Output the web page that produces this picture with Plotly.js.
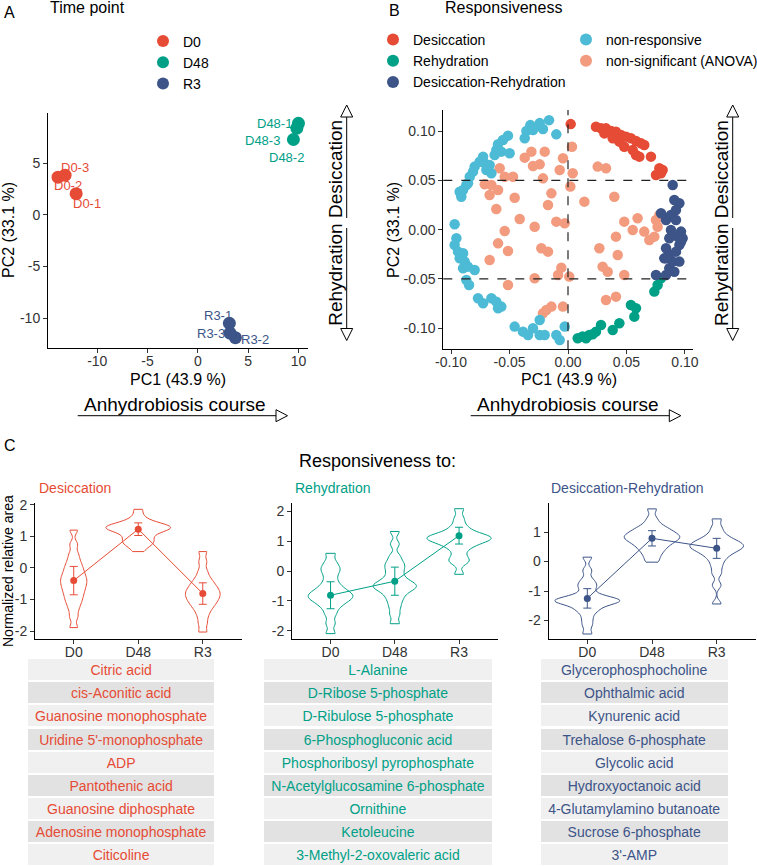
<!DOCTYPE html>
<html><head><meta charset="utf-8">
<script src="https://cdn.plot.ly/plotly-3.0.1.min.js"></script>
<style>body{margin:0;padding:0;background:#fff}#chart{width:757px;height:866px}</style>
</head><body><div id="chart"></div>
<script>
const W = 757, H = 866;
const RED = '#E64B35', GREEN = '#00A087', NAVY = '#3C5488', CYAN = '#4DBBD5', SALMON = '#F39B7F';

// ---------- Panel A : PCA of samples ----------
const timePoints = ['D0', 'D48', 'R3'];
const pcaD0X = [-12.1, -13.9, -13.2];
const pcaD0Y = [2.05, 3.65, 3.85];
const pcaD0Lab = ['D0-1', 'D0-2', 'D0-3'];
const pcaD48X = [10.0, 9.5, 9.84];
const pcaD48Y = [8.87, 7.3, 8.4];
const pcaD48Lab = ['D48-1', 'D48-2', 'D48-3'];
const pcaR3X = [3.13, 3.73, 3.2];
const pcaR3Y = [-10.5, -11.9, -11.45];
const pcaR3Lab = ['R3-1', 'R3-2', 'R3-3'];

// ---------- Panel B : loadings ----------
const desX = [0.0023, 0.0239, 0.0282, 0.0325, 0.0311, 0.0368, 0.0410, 0.0382, 0.0453, 0.0439, 0.0496, 0.0481, 0.0538, 0.0553, 0.0581, 0.0581, 0.0624, 0.0610, 0.0652, 0.0709, 0.0781, 0.0809, 0.0752, 0.0795];
const desY = [0.107, 0.1044, 0.1027, 0.1027, 0.0976, 0.1000, 0.0993, 0.0926, 0.0959, 0.0892, 0.0943, 0.0841, 0.0926, 0.0807, 0.0899, 0.0757, 0.0875, 0.0740, 0.0858, 0.0740, 0.0622, 0.0605, 0.0554, 0.0571];
const rehX = [0.0795, 0.0766, 0.0738, 0.0538, 0.0581, 0.0567, 0.0439, 0.0382, 0.0282, 0.0239, 0.0211, 0.0182, 0.0154, 0.0125, 0.0083];
const rehY = [-0.0493, -0.0561, -0.0628, -0.0764, -0.0797, -0.0882, -0.0949, -0.1017, -0.0966, -0.1034, -0.1061, -0.1068, -0.1101, -0.1084, -0.1101];
const drX = [0.0895, 0.0909, 0.0952, 0.0923, 0.0880, 0.0795, 0.0838, 0.0923, 0.0966, 0.0980, 0.0952, 0.0923, 0.0866, 0.0838, 0.0823, 0.0895, 0.0866, 0.0909, 0.0952, 0.0752, 0.0838, 0.0966, 0.0937, 0.0866, 0.0880, 0.0838];
const drY = [0.0453, 0.0301, 0.0267, 0.0199, 0.0149, 0.0166, 0.0098, 0.0098, -0.0020, -0.0088, -0.0155, -0.0223, -0.0257, -0.0189, -0.0291, -0.0324, -0.0392, -0.0426, -0.0324, -0.0459, -0.0459, -0.0122, -0.0071, -0.0088, -0.0003, -0.0291];
const nrX = [-0.0162, -0.0242, -0.0322, -0.0356, -0.0370, -0.0299, -0.0214, -0.0100, -0.0513, -0.0556, -0.0598, -0.0613, -0.0570, -0.0499, -0.0627, -0.0726, -0.0755, -0.0712, -0.0670, -0.0798, -0.0812, -0.0698, -0.0655, -0.0840, -0.0869, -0.0897, -0.0912, -0.0855, -0.0926,
  -0.0969, -0.0954, -0.0969, -0.0940, -0.0897, -0.0926, -0.0883, -0.0855, -0.0798, -0.0897, -0.0869, -0.0846, -0.0769, -0.0726, -0.0655, -0.0613, -0.0570, -0.0598,
  -0.0456, -0.0385, -0.0342, -0.0299, -0.0242, -0.0199, -0.0242, -0.0100, -0.0071, -0.0028];
const nrY = [0.111, 0.108, 0.106, 0.100, 0.0926, 0.101, 0.102, 0.0966, 0.0953, 0.0909, 0.0865, 0.0807, 0.0791, 0.0774, 0.0757, 0.0740, 0.0689, 0.0672, 0.0655, 0.0639, 0.0588, 0.0605, 0.0571, 0.0537, 0.0453, 0.0402, 0.0334, 0.0470, 0.0385,
  0.0054, -0.0088, -0.0155, -0.0223, -0.0240, -0.0291, -0.0324, -0.0375, -0.0409, -0.0392, -0.0510, -0.0561, -0.0696, -0.0747, -0.0696, -0.0730, -0.0780, -0.0797,
  -0.0983, -0.1034, -0.1068, -0.1000, -0.1068, -0.1068, -0.0916, -0.1068, -0.1118, -0.0983];
const nsX = [-0.0313, -0.0370, -0.0299, -0.0242, -0.0199, -0.0584, -0.0541, -0.0470, -0.0712, -0.0655, -0.0598, -0.0670, -0.0456, -0.0214, -0.0142, -0.0171, -0.0071, -0.0043, -0.0613, -0.0413, -0.0285, -0.0100, -0.0028, -0.0541, -0.0598, -0.0513, -0.0228, -0.0171, -0.0670, -0.0285, -0.0513, -0.0057, -0.0085, -0.0214, -0.0142, -0.0185, -0.0043,
  0.0034, 0.0040, 0.0020, 0.0254, 0.0325, 0.0396, 0.0140, 0.0481, 0.0595, 0.0553, 0.0652, 0.0752, 0.0766, 0.0738, 0.0695, 0.0781, 0.0410, 0.0268, 0.0425, 0.0296, 0.0339, 0.0481, 0.0325, 0.0410, 0.0011];
const nsY = [0.0791, 0.0730, 0.0645, 0.0662, 0.0791, 0.0622, 0.0537, 0.0537, 0.0459, 0.0453, 0.0402, 0.0351, 0.0324, 0.0520, 0.0368, 0.0250, 0.0605, 0.0723, 0.0209, 0.0108, 0.0030, 0.0081, 0.0064, -0.0014, -0.0139, -0.0216, -0.0189, -0.0223, -0.0307, -0.0493, -0.0561, -0.0385, -0.0459, -0.0848, -0.0780, -0.0814, -0.0780,
  0.0841, 0.0571, 0.0437, 0.0639, 0.0622, 0.0334, 0.0284, 0.0081, 0.0115, -0.0003, -0.0020, 0.0098, 0.0030, -0.0071, -0.0105, 0.0149, -0.0071, -0.0189, -0.0257, -0.0375, -0.0426, -0.0459, -0.0713, -0.0679, -0.0476];

// ---------- Panel C : normalized relative areas (values per time point) ----------
const desD0 = [1.2, 0.75, 0.45, 0.25, 0.1, -0.02, -0.13, -0.23, -0.32, -0.4, -0.48, -0.57, -0.66, -0.76, -0.87, -0.99, -1.12, -1.3, -1.55, -1.89];
const desD48 = [1.86, 1.62, 1.48, 1.40, 1.36, 1.33, 1.31, 1.29, 1.27, 1.25, 1.22, 1.18, 1.12, 1.04, 0.96, 0.88, 0.82, 0.76, 0.70, 0.52];
const desR3 = [0.52, 0.2, -0.1, -0.3, -0.42, -0.52, -0.6, -0.67, -0.74, -0.8, -0.86, -0.92, -0.99, -1.06, -1.14, -1.23, -1.35, -1.52, -1.75, -2.03];
const rehD0 = [0.59, 0.3, 0.12, 0.02, -0.15, -0.35, -0.5, -0.6, -0.68, -0.75, -0.8, -0.85, -0.9, -0.96, -1.03, -1.12, -1.25, -1.45, -1.75, -2.09];
const rehD48 = [1.32, 0.9, 0.5, 0.3, 0.18, 0.05, -0.1, -0.25, -0.35, -0.42, -0.47, -0.52, -0.57, -0.63, -0.72, -0.85, -1.0, -1.2, -1.45, -1.76];
const rehR3 = [2.08, 1.75, 1.52, 1.38, 1.28, 1.21, 1.17, 1.14, 1.11, 1.08, 1.05, 1.01, 0.96, 0.9, 0.82, 0.7, 0.5, 0.35, 0.28, -0.11];
const drD0 = [0.15, -0.3, -0.62, -0.78, -0.88, -1.08, -1.2, -1.26, -1.29, -1.31, -1.33, -1.35, -1.38, -1.42, -1.5, -1.62, -1.7, -1.92, -2.15, -2.46];
const drD48 = [1.79, 1.45, 1.25, 1.15, 1.08, 1.02, 0.96, 0.91, 0.87, 0.83, 0.79, 0.75, 0.7, 0.64, 0.57, 0.5, 0.4, 0.3, 0.15, -0.02];
const drR3 = [1.45, 1.15, 0.95, 0.82, 0.74, 0.68, 0.63, 0.58, 0.54, 0.5, 0.46, 0.41, 0.35, 0.28, 0.18, 0.05, -0.15, -0.4, -0.8, -1.44];
const desMean = [-0.40, 1.23, -0.81], desSD = [0.45, 0.20, 0.34];
const rehMean = [-0.81, -0.34, 1.18], rehSD = [0.45, 0.47, 0.28];
const drMean = [-1.25, 0.79, 0.45], drSD = [0.33, 0.26, 0.34];

const desNames = ['Citric acid', 'cis-Aconitic acid', 'Guanosine monophosphate', "Uridine 5'-monophosphate", 'ADP', 'Pantothenic acid', 'Guanosine diphosphate', 'Adenosine monophosphate', 'Citicoline'];
const rehNames = ['L-Alanine', 'D-Ribose 5-phosphate', 'D-Ribulose 5-phosphate', '6-Phosphogluconic acid', 'Phosphoribosyl pyrophosphate', 'N-Acetylglucosamine 6-phosphate', 'Ornithine', 'Ketoleucine', '3-Methyl-2-oxovaleric acid'];
const drNames = ['Glycerophosphocholine', 'Ophthalmic acid', 'Kynurenic acid', 'Trehalose 6-phosphate', 'Glycolic acid', 'Hydroxyoctanoic acid', '4-Glutamylamino butanoate', 'Sucrose 6-phosphate', "3'-AMP"];

const ticksA_x = [-10, -5, 0, 5, 10], ticksA_xt = ['-10', '-5', '0', '5', '10'];
const ticksA_y = [-10, -5, 0, 5], ticksA_yt = ['-10', '-5', '0', '5'];
const ticksB = [-0.10, -0.05, 0, 0.05, 0.10], ticksBt = ['-0.10', '-0.05', '0.00', '0.05', '0.10'];
const ticksC = [-2, -1, 0, 1, 2], ticksCt = ['-2', '-1', '0', '1', '2'];

// ---------- helpers ----------
const px = x => x / W, py = y => 1 - y / H;
const FONT = 'Liberation Sans, Arial, sans-serif';

const traces = [];
// Panel A
[[pcaD0X, pcaD0Y, 'D0', RED], [pcaD48X, pcaD48Y, 'D48', GREEN], [pcaR3X, pcaR3Y, 'R3', NAVY]].forEach(([x, y, n, c]) => {
  traces.push({type: 'scatter', mode: 'markers', x, y, name: n, xaxis: 'x', yaxis: 'y', legend: 'legend',
    marker: {size: 13, color: c}, hoverinfo: 'skip'});
});
// Panel B
[[nsX, nsY, 'non-significant (ANOVA)', SALMON, 'legend3'], [nrX, nrY, 'non-responsive', CYAN, 'legend3'],
 [desX, desY, 'Desiccation', RED, 'legend2'], [rehX, rehY, 'Rehydration', GREEN, 'legend2'], [drX, drY, 'Desiccation-Rehydration', NAVY, 'legend2']].forEach(([x, y, n, c, lg]) => {
  traces.push({type: 'scatter', mode: 'markers', x, y, name: n, xaxis: 'x2', yaxis: 'y2', legend: lg,
    marker: {size: 10.5, color: c}, hoverinfo: 'skip'});
});
// Panel C
function violinGroup(samples, mean, sd, color, xa, ya) {
  const xs = [], ys = [];
  samples.forEach((arr, i) => arr.forEach(v => { xs.push(timePoints[i]); ys.push(v); }));
  traces.push({type: 'violin', x: xs, y: ys, xaxis: xa, yaxis: ya, showlegend: false, hoverinfo: 'skip',
    line: {color, width: 1}, fillcolor: 'rgba(0,0,0,0)', points: false, spanmode: 'hard', width: 1.0, bandwidth: 0.12,
    box: {visible: false}, meanline: {visible: false}});
  traces.push({type: 'scatter', mode: 'lines+markers', x: timePoints, y: mean, xaxis: xa, yaxis: ya, showlegend: false, hoverinfo: 'skip',
    line: {color, width: 1}, marker: {size: 7, color},
    error_y: {type: 'data', array: sd, visible: true, color, thickness: 1, width: 4}});
}
violinGroup([desD0, desD48, desR3], desMean, desSD, RED, 'x3', 'y3');
violinGroup([rehD0, rehD48, rehR3], rehMean, rehSD, GREEN, 'x4', 'y4');
violinGroup([drD0, drD48, drR3], drMean, drSD, NAVY, 'x5', 'y5');

// ---------- axes ----------
const axBase = {showline: true, linecolor: '#000', linewidth: 1, ticks: 'outside', ticklen: 4, tickcolor: '#333', tickwidth: 1,
  showgrid: false, zeroline: false, tickfont: {size: 14, color: '#333'}, fixedrange: true};
const xBase = Object.assign({}, axBase, {ticklabelstandoff: -4});
const layout = {
  width: W, height: H, margin: {l: 0, r: 0, t: 0, b: 0, autoexpand: false}, paper_bgcolor: '#fff', plot_bgcolor: 'rgba(0,0,0,0)',
  font: {family: FONT, color: '#000'},
  xaxis: Object.assign({}, xBase, {domain: [px(48), px(308)], range: [-14.9, 10.95], anchor: 'y', tickvals: ticksA_x, ticktext: ticksA_xt}),
  yaxis: Object.assign({}, axBase, {domain: [py(348), py(113)], range: [-12.9, 9.87], anchor: 'x', tickvals: ticksA_y, ticktext: ticksA_yt}),
  xaxis2: Object.assign({}, xBase, {domain: [px(443.3), px(692.7)], range: [-0.1066, 0.1066], anchor: 'y2', tickvals: ticksB, ticktext: ticksBt}),
  yaxis2: Object.assign({}, axBase, {domain: [py(349.3), py(110)], range: [-0.1213, 0.1213], anchor: 'x2', tickvals: ticksB, ticktext: ticksBt}),
  xaxis3: Object.assign({}, xBase, {domain: [px(35), px(241.5)], range: [-0.6, 2.6], anchor: 'y3', type: 'category', categoryarray: timePoints}),
  yaxis3: Object.assign({}, axBase, {domain: [py(639.3), py(503.3)], range: [-2.26, 2.05], anchor: 'x3', tickvals: ticksC, ticktext: ticksCt}),
  xaxis4: Object.assign({}, xBase, {domain: [px(292), px(497.6)], range: [-0.6, 2.6], anchor: 'y4', type: 'category', categoryarray: timePoints}),
  yaxis4: Object.assign({}, axBase, {domain: [py(639.3), py(503.3)], range: [-2.28, 2.26], anchor: 'x4', tickvals: ticksC, ticktext: ticksCt}),
  xaxis5: Object.assign({}, xBase, {domain: [px(548.5), px(755.5)], range: [-0.6, 2.6], anchor: 'y5', type: 'category', categoryarray: timePoints}),
  yaxis5: Object.assign({}, axBase, {domain: [py(639.3), py(503.3)], range: [-2.64, 1.98], anchor: 'x5', tickvals: ticksC, ticktext: ticksCt}),
  legend: {x: px(143), y: py(25.5), xanchor: 'left', yanchor: 'top', font: {size: 14}, itemsizing: 'constant', bgcolor: 'rgba(0,0,0,0)', tracegroupgap: 0},
  legend2: {x: px(373), y: py(24), xanchor: 'left', yanchor: 'top', font: {size: 14}, itemsizing: 'constant', bgcolor: 'rgba(0,0,0,0)', tracegroupgap: 0},
  legend3: {x: px(566), y: py(24), xanchor: 'left', yanchor: 'top', font: {size: 14}, itemsizing: 'constant', bgcolor: 'rgba(0,0,0,0)', tracegroupgap: 0, traceorder: 'reversed'},
  showlegend: true,
  violingap: 0, violinmode: 'overlay',
  shapes: [], annotations: []
};

// dashed reference lines in panel B
[0.05, -0.05].forEach(v => layout.shapes.push({type: 'line', xref: 'x2 domain', yref: 'y2', x0: 0, x1: 1, y0: v, y1: v,
  line: {color: '#222', width: 1.2, dash: 'dash'}, layer: 'above'}));
layout.shapes.push({type: 'line', xref: 'x2', yref: 'y2 domain', x0: 0, x1: 0, y0: 0, y1: 1, line: {color: '#222', width: 1.2, dash: 'dash'}, layer: 'above'});

// arrows (open triangle heads)
function tri(pts) {
  return {type: 'path', xref: 'paper', yref: 'paper', path: 'M' + pts.map(p => px(p[0]) + ',' + py(p[1])).join(' L') + ' Z',
    fillcolor: 'white', line: {color: '#000', width: 1}};
}
function seg(x0, y0, x1, y1) {
  return {type: 'line', xref: 'paper', yref: 'paper', x0: px(x0), y0: py(y0), x1: px(x1), y1: py(y1), line: {color: '#000', width: 1}};
}
[346.7, 732.7].forEach(X => {
  layout.shapes.push(seg(X, 117, X, 218), tri([[X - 6, 117], [X, 105], [X + 6, 117]]),
    seg(X, 228, X, 328.5), tri([[X - 6, 328.5], [X, 340.5], [X + 6, 328.5]]));
});
[[77.7, 276], [470.7, 669.3]].forEach(([a, b]) => {
  layout.shapes.push(seg(a, 415.7, b, 415.7), tri([[b, 409.7], [b + 11.5, 415.7], [b, 421.7]]));
});

function ann(text, x, y, opt) {
  layout.annotations.push(Object.assign({text, x: px(x), y: py(y), xref: 'paper', yref: 'paper', showarrow: false,
    xanchor: 'center', yanchor: 'middle', font: {size: 16, color: '#000'}}, opt || {}));
}
ann('A', 9, 12, {font: {size: 16}});
ann('B', 394, 11, {font: {size: 16}});
ann('C', 9.5, 446, {font: {size: 16}});
ann('Time point', 48.3, 7, {xanchor: 'left'});
ann('Responsiveness', 443.3, 7, {xanchor: 'left'});
ann('PC1 (43.9 %)', 178.3, 379);
ann('PC1 (43.9 %)', 568.7, 379);
ann('PC2 (33.1 %)', 8.5, 230.5, {textangle: -90});
ann('PC2 (33.1 %)', 393.5, 230.5, {textangle: -90});
ann('Anhydrobiosis course', 175, 404.5, {font: {size: 19}});
ann('Anhydrobiosis course', 568.3, 404.5, {font: {size: 19}});
ann('Rehydration Desiccation', 335.5, 223.3, {textangle: -90, font: {size: 19}});
ann('Rehydration Desiccation', 721.7, 223.3, {textangle: -90, font: {size: 19}});
ann('Responsiveness to:', 377.3, 461, {font: {size: 18}});
ann('Desiccation', 36.7, 488, {xanchor: 'left', font: {size: 14, color: RED}});
ann('Rehydration', 293.3, 488, {xanchor: 'left', font: {size: 14, color: GREEN}});
ann('Desiccation-Rehydration', 548.7, 488, {xanchor: 'left', font: {size: 14, color: NAVY}});
ann('Normalized relative area', 8, 571, {textangle: -90, font: {size: 14}});

// tables of metabolites (one column each, alternating row fills)
function table(names, color, x0, x1) {
  const top = 658.2, pitch = 23.1;
  names.forEach((n, i) => ann(n, (x0 + x1) / 2, top + pitch * (i + 0.5), {
    width: x1 - x0 - 2, height: pitch - 1.8, bgcolor: i % 2 ? '#E2E2E2' : '#F0F0F0', borderpad: 0, borderwidth: 0,
    font: {size: 14, color}}));
}
table(desNames, RED, 26.7, 215);
table(rehNames, GREEN, 263, 493);
table(drNames, NAVY, 540, 728.5);

// sample labels in panel A (offsets in px from each point)
const labelShift = {'D0-1': [11, -10], 'D0-2': [10, -8], 'D0-3': [10, 8], 'D48-1': [-24, 0], 'D48-2': [-7, -18], 'D48-3': [-34, -12],
  'R3-1': [-11, 8], 'R3-2': [20, -2], 'R3-3': [-19, 0]};
[[pcaD0X, pcaD0Y, pcaD0Lab, RED], [pcaD48X, pcaD48Y, pcaD48Lab, GREEN], [pcaR3X, pcaR3Y, pcaR3Lab, NAVY]].forEach(([xs, ys, ls, c]) => {
  ls.forEach((l, i) => layout.annotations.push({text: l, x: xs[i], y: ys[i], xref: 'x', yref: 'y', showarrow: false,
    xshift: labelShift[l][0], yshift: labelShift[l][1], font: {size: 13, color: c}}));
});

Plotly.newPlot('chart', traces, layout, {staticPlot: true, displayModeBar: false});
</script></body></html>
